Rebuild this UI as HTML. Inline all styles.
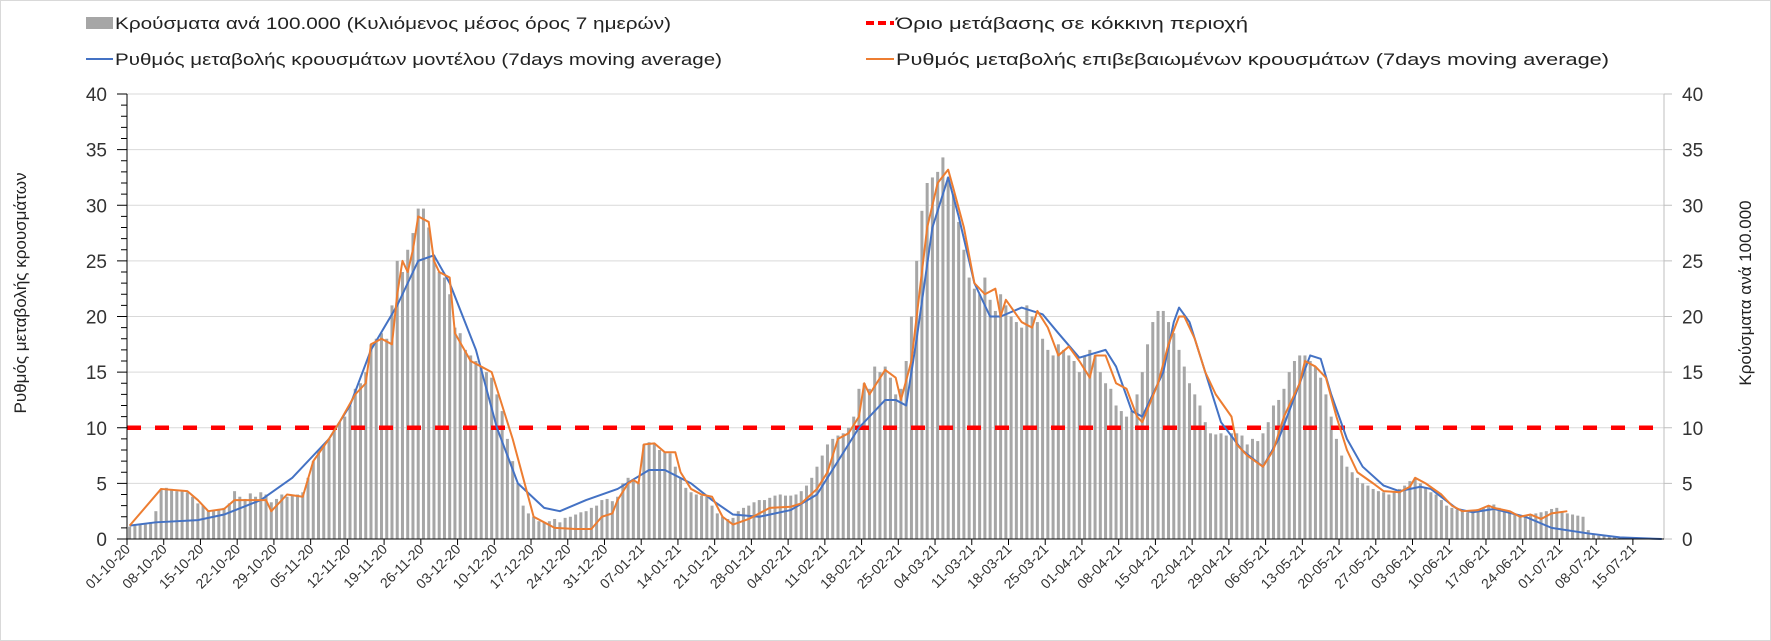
<!DOCTYPE html>
<html><head><meta charset="utf-8">
<style>
body{margin:0;background:#fff;}
svg{display:block;font-family:"Liberation Sans",Arial,sans-serif;}
</style></head>
<body>
<svg id="chart" width="1771" height="641" viewBox="0 0 1771 641" xmlns="http://www.w3.org/2000/svg">
<rect x="0.5" y="0.5" width="1770" height="640" fill="#fff" stroke="#d9d9d9"/>
<g id="grid"></g>
<g id="bars"></g>
<g id="lines"></g>
<g id="axes"></g>
<text x="26" y="293" font-size="17" fill="#222" text-anchor="middle" transform="rotate(-90 26 293)">Ρυθμός μεταβολής κρουσμάτων</text>
<text x="1751" y="293" font-size="17" fill="#222" text-anchor="middle" transform="rotate(-90 1751 293)">Κρούσματα ανά 100.000</text>
<g>
 <g>
  <rect x="86" y="17" width="27" height="12" fill="#a6a6a6"/>
  <text x="115" y="29" font-size="17" fill="#222" textLength="556" lengthAdjust="spacingAndGlyphs">Κρούσματα ανά 100.000 (Κυλιόμενος μέσος όρος 7 ημερών)</text>
 </g>
 <g>
  <line x1="866" y1="23" x2="894" y2="23" stroke="#ff0000" stroke-width="4" stroke-dasharray="8,4"/>
  <text x="896" y="29" font-size="17" fill="#222" textLength="352" lengthAdjust="spacingAndGlyphs">Όριο μετάβασης σε κόκκινη περιοχή</text>
 </g>
 <g>
  <line x1="86" y1="59" x2="113" y2="59" stroke="#4472c4" stroke-width="2"/>
  <text x="115" y="65" font-size="17" fill="#222" textLength="607" lengthAdjust="spacingAndGlyphs">Ρυθμός μεταβολής κρουσμάτων μοντέλου (7days moving average)</text>
 </g>
 <g>
  <line x1="866" y1="59" x2="894" y2="59" stroke="#ed7d31" stroke-width="2"/>
  <text x="896" y="65" font-size="17" fill="#222" textLength="713" lengthAdjust="spacingAndGlyphs">Ρυθμός μεταβολής επιβεβαιωμένων κρουσμάτων (7days moving average)</text>
 </g>
</g>
</svg>
<script>
const xLabels=["01-10-20","08-10-20","15-10-20","22-10-20","29-10-20","05-11-20","12-11-20","19-11-20","26-11-20","03-12-20","10-12-20","17-12-20","24-12-20","31-12-20","07-01-21","14-01-21","21-01-21","28-01-21","04-02-21","11-02-21","18-02-21","25-02-21","04-03-21","11-03-21","18-03-21","25-03-21","01-04-21","08-04-21","15-04-21","22-04-21","29-04-21","06-05-21","13-05-21","20-05-21","27-05-21","03-06-21","10-06-21","17-06-21","24-06-21","01-07-21","08-07-21","15-07-21"];
const yTicks=[0,5,10,15,20,25,30,35,40];
const threshold=10;
const barValues=[
1.1,1.2,1.3,1.3,1.5,2.5,4.5,
4.6,4.5,4.3,4.4,4.2,3.8,3.2,
3.0,2.5,2.6,2.7,2.8,3.2,4.3,
3.8,3.6,4.1,3.8,4.2,4.0,3.3,
3.6,4.0,3.8,3.9,4.0,4.2,5.5,
7.0,8.0,8.5,9.0,9.8,10.5,11.0,
12.0,13.5,14.0,15.0,17.5,18.0,18.5,
18.0,21.0,25.0,24.0,26.0,27.5,29.7,
29.7,28.0,25.5,24.0,23.5,22.0,19.0,
18.5,17.0,16.5,16.0,15.5,15.0,14.5,
13.0,11.5,9.0,7.0,5.0,3.0,2.3,
2.0,1.6,1.5,1.6,1.8,1.5,1.9,
2.0,2.2,2.4,2.5,2.8,3.0,3.5,
3.6,3.4,3.8,5.0,5.5,5.2,5.0,
8.5,8.7,8.6,8.0,7.8,7.7,6.5,
5.5,4.6,4.2,4.0,3.9,3.8,3.0,
2.3,2.0,1.8,1.9,2.5,2.8,3.0,
3.3,3.5,3.5,3.7,3.9,4.0,3.9,
3.9,4.0,4.3,4.8,5.5,6.5,7.5,
8.5,9.0,9.3,9.5,10.0,11.0,13.5,
14.0,13.5,15.5,15.0,15.5,14.5,13.0,
13.5,16.0,20.0,25.0,29.5,32.0,32.5,
33.0,34.3,32.5,31.0,28.5,26.0,23.5,
22.5,22.0,23.5,21.5,20.5,22.0,21.0,
20.0,19.5,19.0,21.0,20.0,19.5,18.0,
17.0,16.5,17.5,17.0,16.5,16.0,15.0,
16.5,17.0,16.5,15.0,14.0,13.5,12.0,
11.5,11.0,11.5,13.0,15.0,17.5,19.5,
20.5,20.5,19.5,18.5,17.0,15.5,14.0,
13.0,12.0,10.5,9.5,9.4,9.5,9.3,
9.5,9.5,9.3,8.5,9.0,8.8,9.5,
10.5,12.0,12.5,13.5,15.0,16.0,16.5,
16.5,16.0,15.5,14.5,13.0,11.0,9.0,
7.5,6.5,6.0,5.5,5.0,4.8,4.5,
4.3,4.2,4.0,4.3,4.5,4.8,5.2,
5.5,5.0,4.6,4.2,4.0,3.5,3.0,
2.8,2.6,2.5,2.4,2.5,2.7,2.8,
3.0,3.1,2.8,2.6,2.4,2.2,2.0,
2.0,2.2,2.3,2.4,2.5,2.7,2.8,
2.5,2.3,2.2,2.1,2.0,0.8,0.5,
0.3,0.3,0.2,0.2,0.1,0.1,0.1];
const confirmedDays=[0,6,11,13,15,18,20,26,27,30,33,35,38,40,43,45,46,48,50,51,52,53,54,55,57,58,59,61,62,65,67,69,71,73,75,77,79,81,85,88,90,92,93,95,96,97,98,100,102,104,105,107,109,111,113,115,118,122,126,128,131,133,135,137,139,140,141,144,146,147,149,150,152,154,156,157,159,161,163,165,166,167,170,172,173,175,177,179,181,183,184,186,188,190,192,193,196,198,200,201,203,205,207,210,211,213,216,218,220,223,224,226,228,230,232,234,237,239,242,244,245,247,250,252,254,257,259,260,263,265,267,269,271,274];
const confirmedValues=[1.2,4.5,4.3,3.5,2.5,2.7,3.5,3.5,2.5,4,3.8,7,9,10.5,13,14,17.5,18,17.5,22,25,24,26,29,28.5,25,24,23.5,18.5,16,15.5,15,12,9,5.5,2,1.5,1,0.9,0.9,2,2.3,3.5,5,5.3,5,8.5,8.6,7.8,7.8,6,4.5,4,3.8,2,1.3,1.8,2.8,2.9,3.2,4.5,6,9,9.5,11,14,13,15.2,14.5,12.5,16,20,28,32,33.2,31.5,28,23,22,22.5,20,21.5,19.5,19,20.5,19,16.5,17.3,16,14.5,16.5,16.5,14,13.5,11,10.5,14,17.5,20,20,18,15,13,11,8.5,7.5,6.5,8,11,14,16,15.5,14.5,11,8,6,5,4.3,4.2,4.7,5.5,5,4,3,2.5,2.6,3,2.8,2.5,2,2.2,1.8,2.3,2.5];
const modelDays=[0,5,13,18,25,31,38,42,46,51,55,58,61,66,70,74,79,82,87,93,99,102,107,111,115,120,126,131,135,139,144,146,148,150,153,156,158,161,164,166,170,174,177,181,186,188,191,193,197,199,200,202,205,208,212,216,219,223,225,227,229,232,235,239,242,246,248,253,256,260,266,271,278,284,292];
const modelValues=[1.2,1.5,1.7,2.2,3.5,5.5,9,12,17,21,25,25.5,23,17,10,5,2.8,2.5,3.5,4.5,6.2,6.2,5,3.5,2.2,2,2.6,4,7,10,12.5,12.5,12,18,28,32.5,29,23,20,20,20.8,20.2,18.5,16.3,17,15.5,11.5,11,15,19.5,20.8,19.5,15,10.5,8,6.5,9,14,16.5,16.2,13,9,6.5,4.8,4.3,4.7,4.5,2.7,2.4,2.7,2,1,0.5,0.15,0];

const NS="http://www.w3.org/2000/svg";
const X0=127,X1=1664,Y0=539,Y40=94,DAY=5.247;
const xd=d=>X0+DAY*d;
const yv=v=>Y0-(Y0-Y40)*v/40;
function mk(tag,attrs,parent){const e=document.createElementNS(NS,tag);for(const k in attrs)e.setAttribute(k,attrs[k]);parent.appendChild(e);return e;}
const grid=document.getElementById('grid'),bars=document.getElementById('bars'),lines=document.getElementById('lines'),axes=document.getElementById('axes');

yTicks.forEach(t=>{
  if(t>0){const g=mk('line',{x1:X0,x2:X1,y1:yv(t),y2:yv(t),stroke:'#d9d9d9','stroke-width':1},grid);
  
  }
  const l=mk('text',{x:107,y:yv(t)+7,'font-size':19,fill:'#333','text-anchor':'end'},axes);l.textContent=t;
  
  
  const r=mk('text',{x:1682,y:yv(t)+7,'font-size':19,fill:'#333'},axes);r.textContent=t;
  
  
  mk('line',{x1:X0-10,x2:X0,y1:yv(t),y2:yv(t),stroke:'#000'},axes);
  mk('line',{x1:X1,x2:X1+8,y1:yv(t),y2:yv(t),stroke:'#bfbfbf'},axes);
});
for(let v=1;v<40;v++){if(v%5)mk('line',{x1:X0-6,x2:X0,y1:yv(v),y2:yv(v),stroke:'#000'},axes);}

barValues.forEach((v,d)=>{
  const b=mk('rect',{x:xd(d+0.5)-1.5,y:yv(v),width:3,height:Y0-yv(v),fill:'#a6a6a6'},bars);
  
  
});

const th=mk('line',{x1:X0,x2:X1,y1:yv(threshold),y2:yv(threshold),stroke:'#ff0000','stroke-width':4.5,'stroke-dasharray':'14,14'},lines);



const mp=mk('polyline',{points:modelDays.map((d,i)=>xd(d+0.5)+','+yv(modelValues[i])).join(' '),fill:'none',stroke:'#4472c4','stroke-width':2,'stroke-linejoin':'round'},lines);


const cp=mk('polyline',{points:confirmedDays.map((d,i)=>xd(d+0.5)+','+yv(confirmedValues[i])).join(' '),fill:'none',stroke:'#ed7d31','stroke-width':2,'stroke-linejoin':'round'},lines);



mk('line',{x1:X0,x2:X0,y1:Y40,y2:Y0,stroke:'#000'},axes);
mk('line',{x1:X1,x2:X1,y1:Y40,y2:Y0,stroke:'#bfbfbf'},axes);
mk('line',{x1:X0,x2:X1,y1:Y0,y2:Y0,stroke:'#000'},axes);
xLabels.forEach((s,i)=>{
  const x=xd(i*7);
  mk('line',{x1:x,x2:x,y1:Y0,y2:Y0+6,stroke:'#000'},axes);
  const t=mk('text',{x:x+4,y:Y0+11,'font-size':14,fill:'#333','text-anchor':'end',transform:`rotate(-45 ${x+4} ${Y0+11})`},axes);
  t.textContent=s;
  
  
});
</script>
</body></html>
